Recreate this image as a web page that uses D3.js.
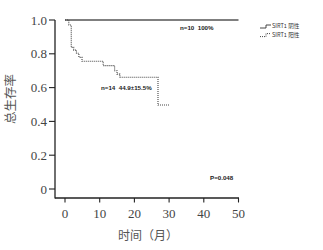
<!DOCTYPE html>
<html><head><meta charset="utf-8">
<script src="https://cdn.jsdelivr.net/npm/d3@7"></script>
<style>body{margin:0;background:#fff}svg{display:block}</style>
</head><body>
<script>
const xTicks = [0, 10, 20, 30, 40, 50];
const yTicks = [0, 0.2, 0.4, 0.6, 0.8, 1.0];
const yTickLabels = ["0", "0.2", "0.4", "0.6", "0.8", "1.0"];
const negTimes = [0, 50];
const negSurv = [1.0, 1.0];
const posTimes = [0, 1.1, 1.8, 2.5, 3.3, 4.0, 4.9, 11.0, 14.3, 15.0, 15.8, 26.8, 30];
const posSurv = [1.0, 0.97, 0.838, 0.822, 0.803, 0.779, 0.756, 0.73, 0.70, 0.68, 0.661, 0.497, 0.497];
const seriesNames = ["SIRT1 阴性", "SIRT1 阳性"];
const annotations = ["n=10  100%", "n=14  44.9±15.5%", "P=0.048"];
const yTitle = "总生存率";
const xTitle = "时间（月）";

const W = 323, H = 250;
const svg = d3.select("body").append("svg").attr("width", W).attr("height", H);
const x = d3.scaleLinear().domain([0, 50]).range([65, 238.5]);
const y = d3.scaleLinear().domain([0, 1]).range([189, 20]);
const axisColor = "#222";
const serif = "'Liberation Serif','DejaVu Serif',serif";

// axes lines
svg.append("line").attr("x1", 55).attr("x2", 55).attr("y1", 20).attr("y2", 198.5)
  .attr("stroke", axisColor).attr("stroke-width", 1.3);
svg.append("line").attr("x1", 55).attr("x2", x(50)+0.5).attr("y1", 198).attr("y2", 198)
  .attr("stroke", axisColor).attr("stroke-width", 1.3);

// y ticks
const yAx = svg.append("g");
yTicks.forEach((v, i) => {
  yAx.append("line").attr("x1", 49).attr("x2", 55).attr("y1", y(v)).attr("y2", y(v))
    .attr("stroke", axisColor).attr("stroke-width", 1.1);
  yAx.append("text").attr("x", 47).attr("y", y(v)).attr("dy", "0.35em")
    .attr("text-anchor", "end").attr("font-family", serif).attr("font-size", 13)
    .attr("fill", "#444").text(yTickLabels[i]);
});
// x ticks
const xAx = svg.append("g");
xTicks.forEach(v => {
  xAx.append("line").attr("x1", x(v)).attr("x2", x(v)).attr("y1", 198).attr("y2", 202.5)
    .attr("stroke", axisColor).attr("stroke-width", 1.1);
  xAx.append("text").attr("x", x(v)).attr("y", 218).attr("text-anchor", "middle")
    .attr("font-family", serif).attr("font-size", 13).attr("fill", "#444").text(v);
});

// titles
svg.append("text").attr("transform", "translate(15,99) rotate(-90)")
  .attr("text-anchor", "middle").attr("font-family", "'Noto Sans CJK SC',sans-serif")
  .attr("font-size", 12.5).attr("fill", "#555").text(yTitle);
svg.append("text").attr("x", 148).attr("y", 240).attr("text-anchor", "middle")
  .attr("font-family", "'Noto Sans CJK SC',sans-serif").attr("font-size", 12)
  .attr("fill", "#555").text(xTitle);

// curves
const line = d3.line().x(d => x(d[0])).y(d => y(d[1])).curve(d3.curveStepAfter);
svg.append("path").datum(negTimes.map((t, i) => [t, negSurv[i]]))
  .attr("d", line).attr("fill", "none").attr("stroke", "#555").attr("stroke-width", 1.6);
svg.append("path").datum(posTimes.map((t, i) => [t, posSurv[i]]))
  .attr("d", line).attr("fill", "none").attr("stroke", "#444").attr("stroke-width", 1.1)
  .attr("stroke-dasharray", "1,1");

// annotations
const small = "'Liberation Sans','DejaVu Sans',sans-serif";
svg.append("text").attr("x", 180).attr("y", 30).attr("font-family", small).attr("font-size", 6.2)
  .attr("font-weight", "bold").attr("fill", "#222").style("white-space", "pre").text(annotations[0]);
svg.append("text").attr("x", 101).attr("y", 90).attr("font-family", small).attr("font-size", 6.2)
  .attr("font-weight", "bold").attr("fill", "#222").style("white-space", "pre").text(annotations[1]);
svg.append("text").attr("x", 210).attr("y", 180).attr("font-family", small).attr("font-size", 6.2)
  .attr("font-weight", "bold").attr("fill", "#222").text(annotations[2]);

// legend
const lg = svg.append("g");
seriesNames.forEach((name, i) => {
  const ly = 26.5 + i * 8.6;
  const p = d3.path();
  p.moveTo(260, ly + 1.5); p.lineTo(266, ly + 1.5); p.lineTo(266, ly - 1.5); p.lineTo(271, ly - 1.5);
  lg.append("path").attr("d", p.toString()).attr("fill", "none").attr("stroke", "#333")
    .attr("stroke-width", 0.9).attr("stroke-dasharray", i === 1 ? "1,1" : null);
  lg.append("text").attr("x", 272).attr("y", ly).attr("dy", "0.35em")
    .attr("font-family", "'Noto Sans CJK SC',sans-serif").attr("font-size", 5.6)
    .attr("fill", "#333").text(name);
});
</script>
</body></html>
